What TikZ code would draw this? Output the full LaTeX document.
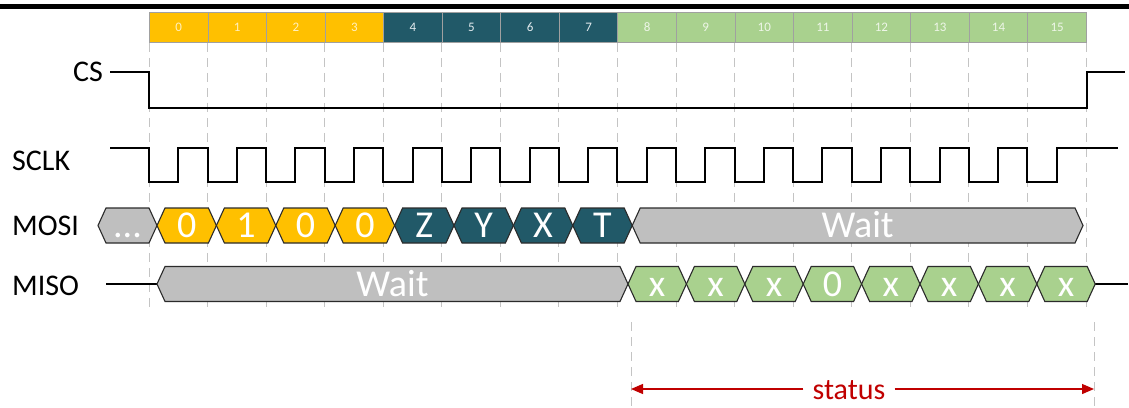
\documentclass[tikz,border=0pt]{standalone}
\usepackage{fontspec}
\setmainfont{Carlito}
\usetikzlibrary{arrows.meta}
\definecolor{cyel}{HTML}{FFC000}
\definecolor{cteal}{HTML}{215968}
\definecolor{cgrn}{HTML}{A9D18E}
\definecolor{cgry}{HTML}{BFBFBF}
\definecolor{cred}{HTML}{C00000}
\definecolor{gridc}{HTML}{C4C4C4}
\definecolor{hline}{HTML}{2B2B2B}
\definecolor{hdrline}{HTML}{A0A0A0}
\definecolor{ytext}{HTML}{FFF0C0}
\definecolor{ttext}{HTML}{E4ECEF}
\definecolor{gtext}{HTML}{EEF6E8}
\newcommand{\hexa}[6]{%
  \filldraw[fill=#1, draw=hline, line width=1.1pt, line join=miter]
    (#2,#4) -- ({#2+8},{#4-17.5}) -- ({#3-8},{#4-17.5}) -- (#3,#4)
    -- ({#3-8},{#4+17.5}) -- ({#2+8},{#4+17.5}) -- cycle;
  \node[hextext] (#6) at ({(#2+#3)/2},#4) {#5};}
\begin{document}
\begin{tikzpicture}[x=1pt,y=-1pt,
  hdr/.style={draw=hdrline, line width=0.8pt, minimum width=58.56pt, minimum height=30pt,
    inner sep=0pt, anchor=north west, font=\fontsize{13}{13}\selectfont},
  gridl/.style={draw=gridc, line width=1pt, dash pattern=on 9pt off 6pt},
  wave/.style={draw=black, line width=2pt, line join=miter},
  lab/.style={inner sep=0pt, font=\fontsize{30}{30}\selectfont},
  hextext/.style={inner sep=0pt, text=white, text height=24pt, text depth=0pt,
    font=\fontsize{38}{38}\selectfont},
  stat/.style={inner xsep=9pt, inner ysep=0pt, text=cred, font=\fontsize{30}{30}\selectfont}]
\useasboundingbox (0,0) rectangle (1129,407);
% top bar
\fill[black] (0,3.5) rectangle (1129,8.5);
% header cells
\foreach \k in {0,...,3}
  \node[hdr, fill=cyel, text=ytext] (h\k) at ({149+58.56*\k},12) {\k};
\foreach \k in {4,...,7}
  \node[hdr, fill=cteal, text=ttext] (h\k) at ({149+58.56*\k},12) {\k};
\foreach \k in {8,...,15}
  \node[hdr, fill=cgrn, text=gtext] (h\k) at ({149+58.56*\k},12) {\k};
% grid lines
\foreach \k in {0,...,15}
  \draw[gridl] (h\k.south west) -- ++(0,268);
\draw[gridl] (h15.south east) -- ++(0,268);
% labels
\node[lab, anchor=east] (cs) at (103,71.5) {CS};
\node[lab, anchor=west] (sclk) at (12,161) {SCLK};
\node[lab, anchor=west] (mosi) at (12,225.5) {MOSI};
\node[lab, anchor=west] (miso) at (12,285.5) {MISO};
% CS
\draw[wave] (cs.east) ++(7,0) -- (149,71.5) -- (149,108) -- (1087,108) -- (1087,71.5) -- (1125,71.5);
% SCLK
\draw[wave] (110,148) -- (149,148)
  \foreach \k in {0,...,15} { -- ({149+58.56*\k},148) -- ({149+58.56*\k},182)
    -- ({149+58.56*(\k+0.5)},182) -- ({149+58.56*(\k+0.5)},148) }
  -- (1118,148);
% MOSI
\hexa{cgry}{98}{157}{225.5}{...}{mdots}
\hexa{cyel}{157}{216.4}{225.5}{0}{m0}
\hexa{cyel}{216.4}{275.8}{225.5}{1}{m1}
\hexa{cyel}{275.8}{335.2}{225.5}{0}{m2}
\hexa{cyel}{335.2}{394.6}{225.5}{0}{m3}
\hexa{cteal}{394.6}{454}{225.5}{Z}{m4}
\hexa{cteal}{454}{513.4}{225.5}{Y}{m5}
\hexa{cteal}{513.4}{572.8}{225.5}{X}{m6}
\hexa{cteal}{572.8}{632.2}{225.5}{T}{m7}
\hexa{cgry}{632.2}{1083}{225.5}{Wait}{mwait}
% MISO
\coordinate (misoL) at (106,284);
\coordinate (misoR) at (1128,284);
\draw[wave] (misoL) -- (157,284);
\draw[wave] (1095,284) -- (misoR);
\hexa{cgry}{157}{628}{284}{Wait}{swait}
\hexa{cgrn}{628}{686.4}{284}{x}{s0}
\hexa{cgrn}{686.4}{744.8}{284}{x}{s1}
\hexa{cgrn}{744.8}{803.2}{284}{x}{s2}
\hexa{cgrn}{803.2}{861.6}{284}{0}{s3}
\hexa{cgrn}{861.6}{920}{284}{x}{s4}
\hexa{cgrn}{920}{978.4}{284}{x}{s5}
\hexa{cgrn}{978.4}{1036.8}{284}{x}{s6}
\hexa{cgrn}{1036.8}{1095.2}{284}{x}{s7}
% status
\coordinate (stL) at (631,322);
\coordinate (stR) at (1094,322);
\draw[gridl] (stL) -- ++(0,85);
\draw[gridl] (stR) -- ++(0,85);
\node[stat, anchor=base] (status) at (849,399) {status};
\coordinate (aL) at (631,389);
\coordinate (aR) at (1094,389);
\draw[cred, line width=1.3pt, -{Triangle[length=12pt,width=10pt]}] (status.west |- aL) -- (aL);
\draw[cred, line width=1.3pt, -{Triangle[length=12pt,width=10pt]}] (status.east |- aR) -- (aR);
\end{tikzpicture}
\end{document}
